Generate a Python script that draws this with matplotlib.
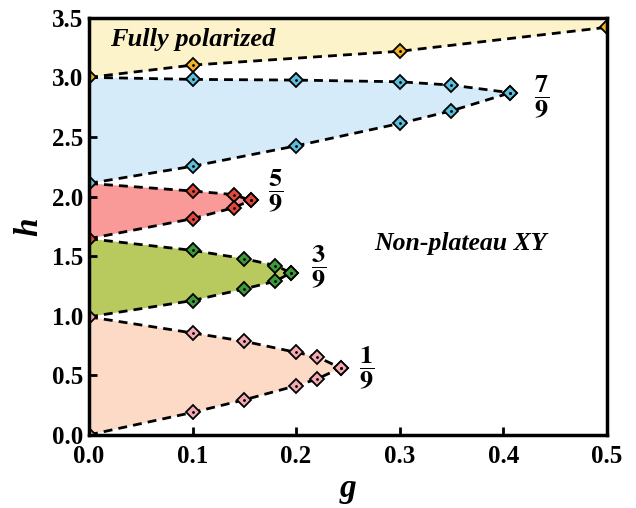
import matplotlib
matplotlib.use("Agg")
import matplotlib.pyplot as plt

plt.rcParams.update({
    "font.family": "Liberation Serif",
    "font.weight": "bold",
    "mathtext.fontset": "stix",
})

# critical fields at g = 0
g0_h = [0.0, 0.99, 1.646, 2.11, 3.0]
g0_colors = ["#f4a9b2", "#f4a9b2", "#e0483c", "#5bbfdc", "#f2b324"]

# saturation line (fully polarized)
sat_g = [0.0, 0.1, 0.3, 0.5]
sat_h = [3.0, 3.103, 3.219, 3.42]

# 7/9 plateau
p7_up_g = [0.0, 0.1, 0.2, 0.3, 0.35, 0.407]
p7_up_h = [3.0, 2.983, 2.977, 2.963, 2.935, 2.871]
p7_lo_g = [0.0, 0.1, 0.2, 0.3, 0.35, 0.407]
p7_lo_h = [2.11, 2.254, 2.425, 2.613, 2.719, 2.871]

# 5/9 plateau
p5_up_g = [0.0, 0.1, 0.14, 0.156]
p5_up_h = [2.11, 2.046, 2.016, 1.968]
p5_lo_g = [0.0, 0.1, 0.14, 0.156]
p5_lo_h = [1.646, 1.814, 1.907, 1.968]

# 3/9 plateau
p3_up_g = [0.0, 0.1, 0.15, 0.18, 0.195]
p3_up_h = [1.646, 1.548, 1.478, 1.421, 1.36]
p3_lo_g = [0.0, 0.1, 0.15, 0.18, 0.195]
p3_lo_h = [0.99, 1.127, 1.225, 1.289, 1.36]

# 1/9 plateau
p1_up_g = [0.0, 0.1, 0.15, 0.2, 0.22, 0.243]
p1_up_h = [0.99, 0.855, 0.785, 0.692, 0.656, 0.561]
p1_lo_g = [0.0, 0.1, 0.15, 0.2, 0.22, 0.243]
p1_lo_h = [0.0, 0.188, 0.294, 0.412, 0.468, 0.561]

plateaus = [
    # upper, lower, fill, marker, label, label position
    (p7_up_g, p7_up_h, p7_lo_g, p7_lo_h, "#d5ebf9", "#5bbfdc", r"$\dfrac{\mathbf{7}}{\mathbf{9}}$", (0.437, 2.84)),
    (p5_up_g, p5_up_h, p5_lo_g, p5_lo_h, "#f99a99", "#e0483c", r"$\dfrac{\mathbf{5}}{\mathbf{9}}$", (0.18, 2.045)),
    (p3_up_g, p3_up_h, p3_lo_g, p3_lo_h, "#b8c95e", "#3d9a3a", r"$\dfrac{\mathbf{3}}{\mathbf{9}}$", (0.222, 1.41)),
    (p1_up_g, p1_up_h, p1_lo_g, p1_lo_h, "#fcdac6", "#f4a9b2", r"$\dfrac{\mathbf{1}}{\mathbf{9}}$", (0.268, 0.56)),
]

fig = plt.figure(figsize=(6.36, 5.08), dpi=100)
ax = fig.add_axes([0.140, 0.144, 0.814, 0.821])

mk = dict(marker="D", markersize=7.5, markeredgecolor="black", markeredgewidth=1.3, zorder=4)
dot = dict(marker=".", markersize=2, color="black", linestyle="none", zorder=5)
dash = dict(color="black", lw=2, dashes=(3.2, 2.2), zorder=3)

# fully polarized region
ax.fill_between(sat_g, sat_h, 3.5, color="#fdf3cb", lw=0, zorder=1)
ax.plot(sat_g, sat_h, **dash)
ax.plot(sat_g[1:], sat_h[1:], linestyle="none", markerfacecolor="#f2b324", **mk)
ax.plot(sat_g[1:], sat_h[1:], **dot)

for ug, uh, lg, lh, fc, mc, lab, pos in plateaus:
    ax.fill(ug + lg[::-1], uh + lh[::-1], color=fc, lw=0, zorder=1)
    for gg, hh in ((ug, uh), (lg, lh)):
        ax.plot(gg, hh, **dash)
        ax.plot(gg[1:], hh[1:], linestyle="none", markerfacecolor=mc, **mk)
        ax.plot(gg[1:], hh[1:], **dot)
    ax.text(pos[0], pos[1], lab, fontsize=19, ha="center", va="center")

for hh, c in zip(g0_h, g0_colors):
    ax.plot([0.0], [hh], linestyle="none", markerfacecolor=c, **mk)

ax.text(0.02, 3.26, "Fully polarized", fontsize=19, style="italic", weight="bold")
ax.text(0.275, 1.55, "Non-plateau XY", fontsize=18.5, style="italic", weight="bold")

ax.set_xlim(0, 0.5)
ax.set_ylim(0, 3.5)
ax.set_xticks([0.0, 0.1, 0.2, 0.3, 0.4, 0.5])
ax.set_yticks([0.0, 0.5, 1.0, 1.5, 2.0, 2.5, 3.0, 3.5])
ax.xaxis.set_major_formatter(matplotlib.ticker.FormatStrFormatter("%.1f"))
ax.yaxis.set_major_formatter(matplotlib.ticker.FormatStrFormatter("%.1f"))
ax.tick_params(direction="in", length=6, width=2, labelsize=18, pad=4)
ax.tick_params(axis="x", pad=7)
for lab in ax.get_xticklabels() + ax.get_yticklabels():
    lab.set_fontweight("bold")
for s in ax.spines.values():
    s.set_linewidth(2.5)
    s.set_zorder(6)

ax.set_xlabel("g", fontsize=24, style="italic", weight="bold", labelpad=4)
ax.set_ylabel("h", fontsize=24, style="italic", weight="bold", labelpad=6)

fig.savefig("out.png", dpi=100)
